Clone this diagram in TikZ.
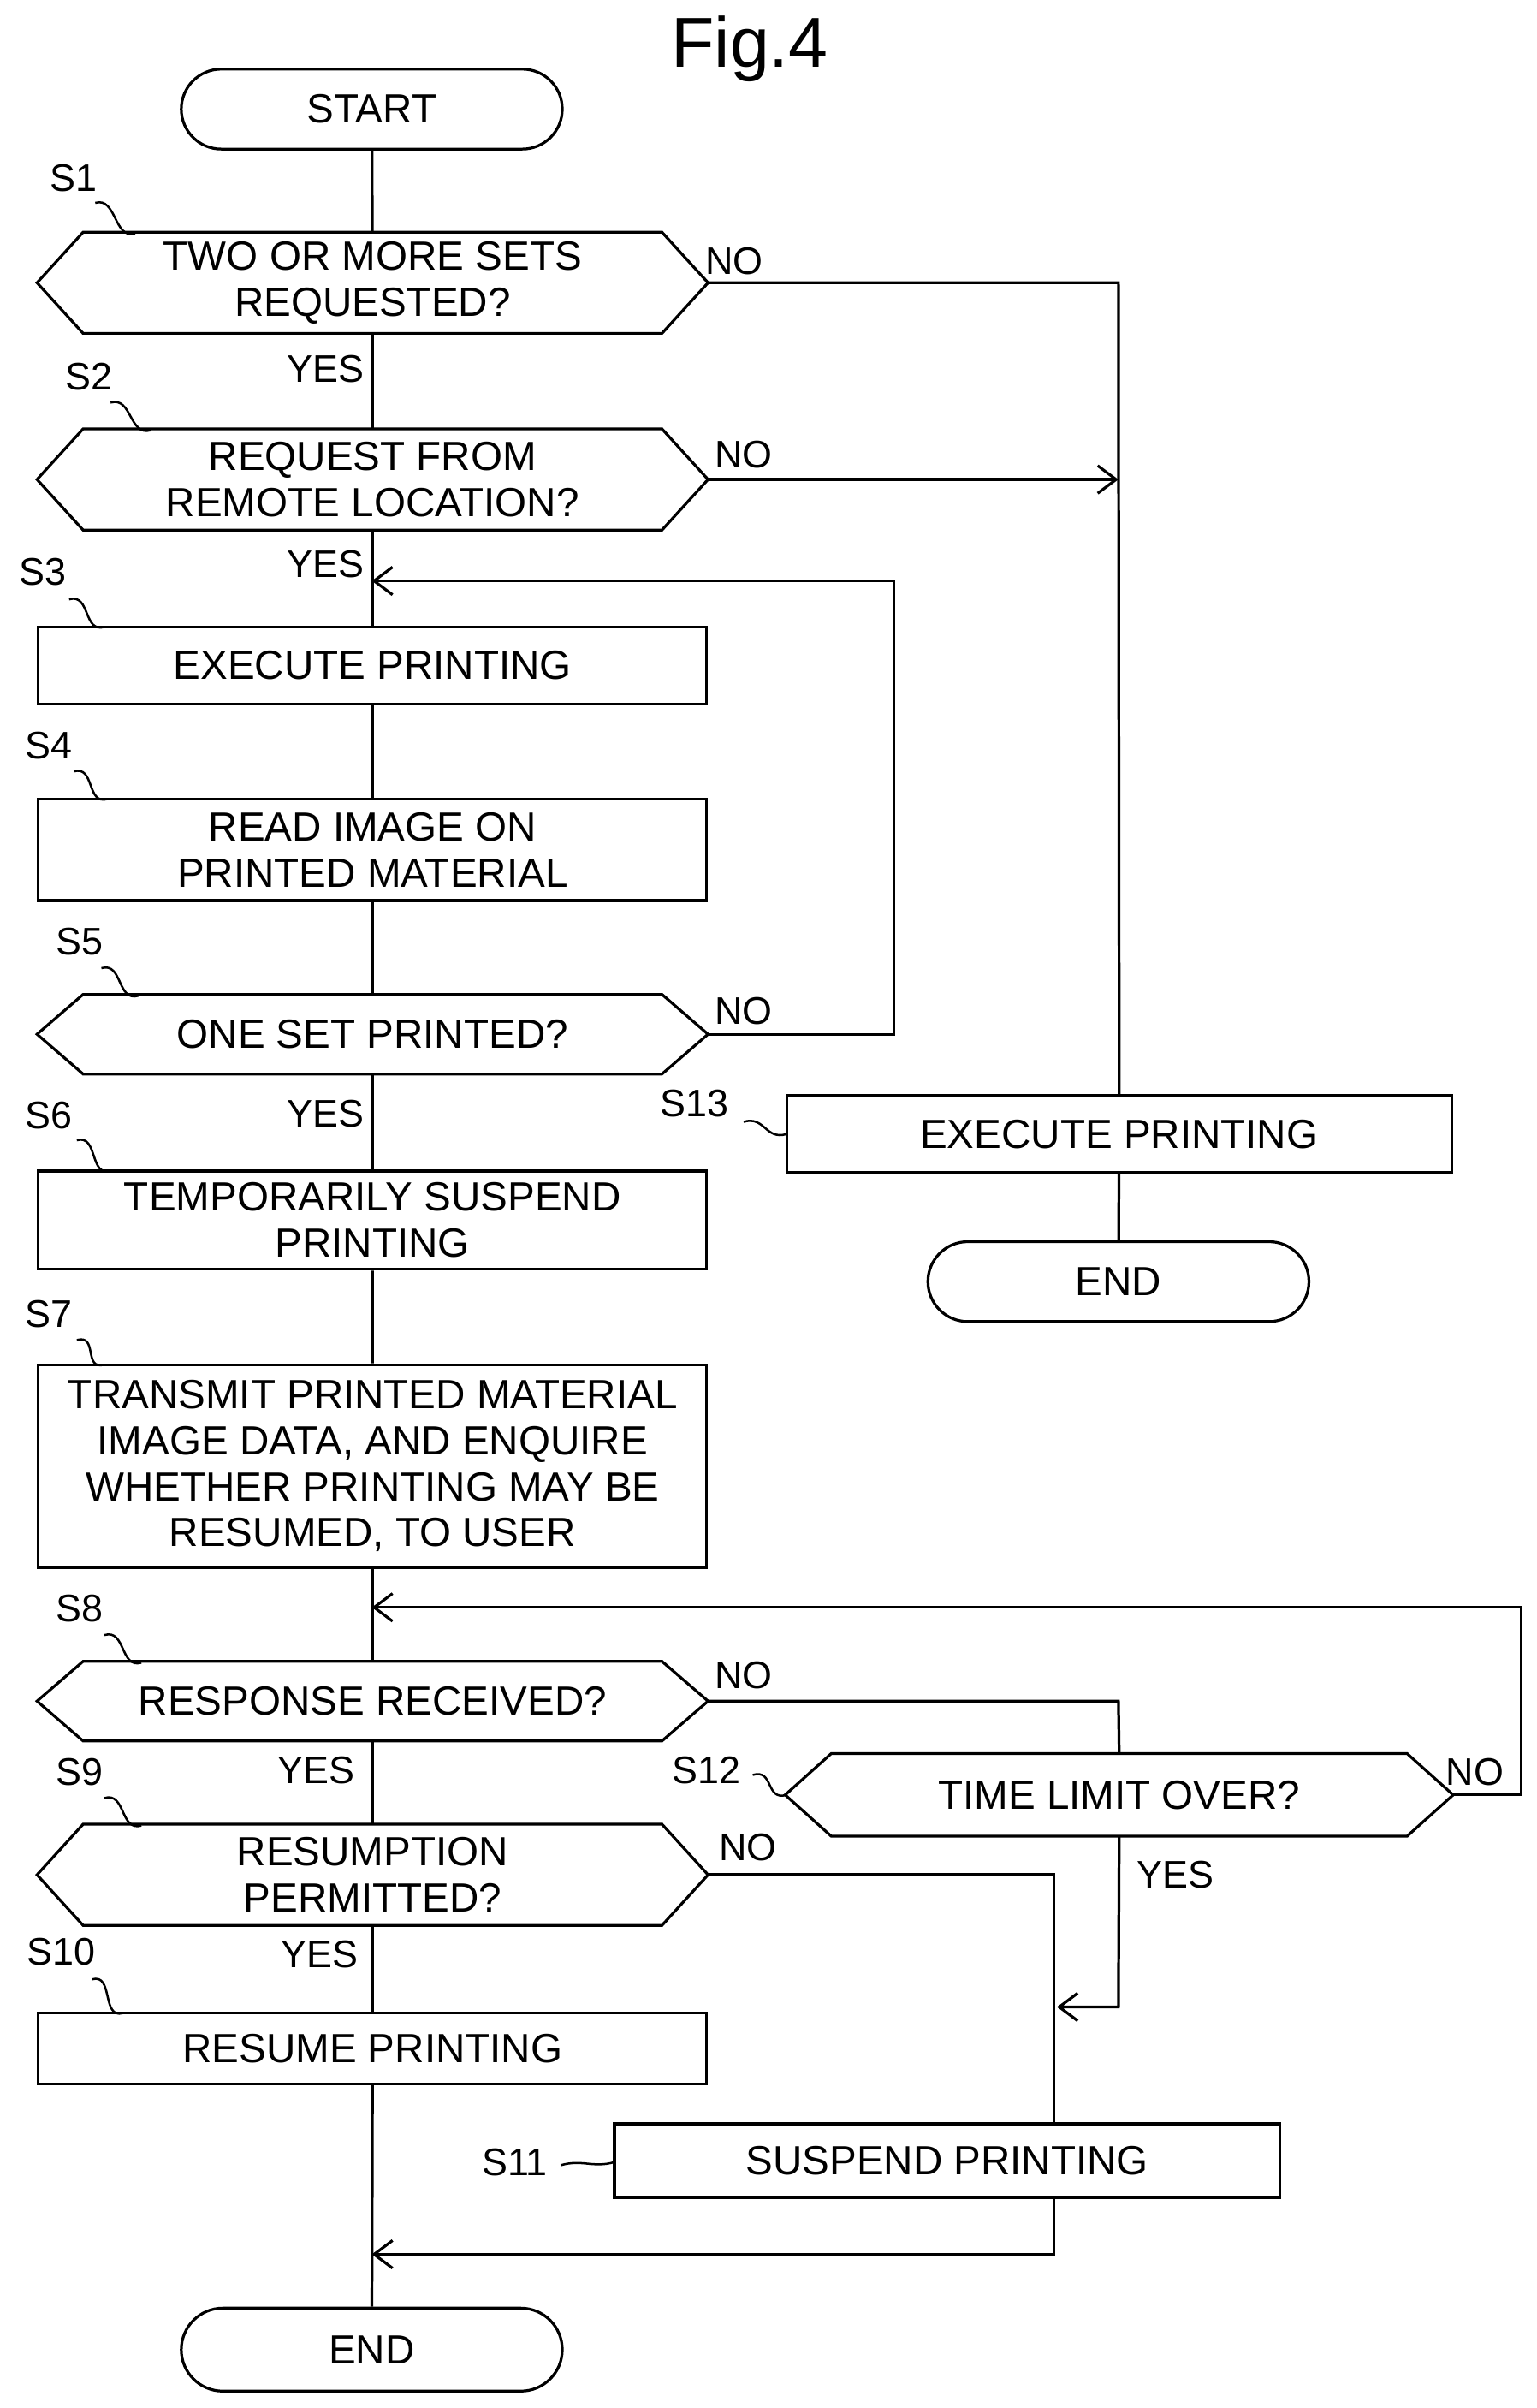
\documentclass[tikz,border=0pt]{standalone}
\usepackage{fontspec}
\setmainfont{Liberation Sans}
\usetikzlibrary{shapes.misc,arrows.meta}
\begin{document}
\begin{tikzpicture}[x=1pt,y=-1pt,line width=1.8pt,
 every node/.style={font=\fontsize{26.5}{30}\selectfont},
 box/.style={draw,rectangle,minimum width=435pt,align=center,inner sep=0pt},
 hx/.style={rectangle,minimum width=435pt,align=center,inner sep=0pt},
 term/.style={draw,rounded rectangle,minimum width=248pt,minimum height=52pt,inner sep=0pt},
 arr/.style={-{Straight Barb[length=12pt,width=18pt,line width=1.8pt]}},
 lab/.style={font=\fontsize{25}{28}\selectfont}]
\useasboundingbox (0,0) rectangle (1000,1567);
\newcommand{\hexa}[1]{\draw (#1.west) -- ([xshift=30pt]#1.north west) -- ([xshift=-30pt]#1.north east) -- (#1.east) -- ([xshift=-30pt]#1.south east) -- ([xshift=30pt]#1.south west) -- cycle;}
\newcommand{\squig}[2]{\draw[line width=1.4pt] (#1) .. controls +(14,-4) and +(-14,4) .. (#2);}
\node[font=\fontsize{46}{48}\selectfont] (title) at (488,32) {Fig.4};
\node[term] (start) at (242,71) {START};
\node[hx,minimum height=64pt] (s1) at (242.5,184) {TWO OR MORE SETS\\REQUESTED?};
\node[hx,minimum height=64pt] (s2) at (242.5,312) {REQUEST FROM\\REMOTE LOCATION?};
\node[box,minimum height=50pt] (s3) at (242.5,433) {EXECUTE PRINTING};
\node[box,minimum height=66pt] (s4) at (242.5,553) {READ IMAGE ON\\PRINTED MATERIAL};
\node[hx,minimum height=50pt] (s5) at (242.5,673) {ONE SET PRINTED?};
\node[box,minimum height=64pt] (s6) at (242.5,794) {TEMPORARILY SUSPEND\\PRINTING};
\node[box,minimum height=132pt] (s7) at (242.5,954) {TRANSMIT PRINTED MATERIAL\\IMAGE DATA, AND ENQUIRE\\WHETHER PRINTING MAY BE\\RESUMED, TO USER};
\node[hx,minimum height=50pt] (s8) at (242.5,1107) {RESPONSE RECEIVED?};
\node[hx,minimum height=64pt] (s9) at (242.5,1220) {RESUMPTION\\PERMITTED?};
\node[box,minimum height=46pt] (s10) at (242.5,1333) {RESUME PRINTING};
\node[box,minimum height=48pt,minimum width=433pt] (s11) at (616.5,1406) {SUSPEND PRINTING};
\node[term,minimum height=54pt] (end1) at (242,1529) {END};
\node[hx,minimum height=52pt,minimum width=433pt] (s12) at (728.5,1168) {TIME LIMIT OVER?};
\node[box,minimum height=50pt,minimum width=433pt] (s13) at (728.5,738) {EXECUTE PRINTING};
\node[term] (end2) at (728,834) {END};
\foreach \n in {s1,s2,s5,s8,s9,s12} {\hexa{\n}}
\draw (start) -- (s1) (s1) -- (s2) (s2) -- (s3) (s3) -- (s4) (s4) -- (s5) (s5) -- (s6) (s6) -- (s7) (s7) -- (s8) (s8) -- (s9) (s9) -- (s10) (s10) -- (end1);
\coordinate (j1) at (728,184);
\draw (s1.east) -- (j1) -- (s13.north);
\draw[arr] (s2.east) -- (728,312);
\draw (s13) -- (end2);
\coordinate (j3) at (242,378);
\draw[arr] (s5.east) -- (582,673) -- (582,378) -- (j3);
\draw (s8.east) -- (728,1107) -- (s12.north);
\coordinate (j8) at (242,1046);
\draw[arr] (s12.east) -- (990,1168) -- (990,1046) -- (j8);
\draw (s9.east) -- (686,1220) -- (686,1382);
\draw[arr] (s12.south) -- (728,1306) -- (688,1306);
\coordinate (je) at (242,1467);
\draw[arr] (686,1430) -- (686,1467) -- (je);
\node[lab] (l1) at (48,116) {S1}; \squig{62,132}{88,152}
\node[lab] (l2) at (58,245) {S2}; \squig{72,262}{98,280}
\node[lab] (l3) at (28,372) {S3}; \squig{45,390}{68,408}
\node[lab] (l4) at (32,485) {S4}; \squig{48,502}{70,520}
\node[lab] (l5) at (52,613) {S5}; \squig{66,630}{90,648}
\node[lab] (l6) at (32,726) {S6}; \squig{50,742}{72,762}
\node[lab] (l7) at (32,855) {S7}; \squig{50,872}{68,888}
\node[lab] (l8) at (52,1047) {S8}; \squig{68,1064}{92,1082}
\node[lab] (l9) at (52,1153) {S9}; \squig{68,1170}{92,1188}
\node[lab] (l10) at (40,1270) {S10}; \squig{60,1288}{80,1310}
\node[lab] (l11) at (335,1407) {S11}; \squig{365,1409}{400,1407}
\node[lab] (l12) at (460,1152) {S12}; \squig{490,1155}{512,1168}
\node[lab] (l13) at (452,718) {S13}; \squig{484,730}{512,738}
\foreach \p/\t in {{212,240}/YES,{212,367}/YES,{212,725}/YES,{206,1152}/YES,{208,1272}/YES,{765,1220}/YES,{478,170}/NO,{484,296}/NO,{484,658}/NO,{484,1090}/NO,{487,1202}/NO,{960,1153}/NO}
 \node[lab] at (\p) {\t};
\end{tikzpicture}
\end{document}
